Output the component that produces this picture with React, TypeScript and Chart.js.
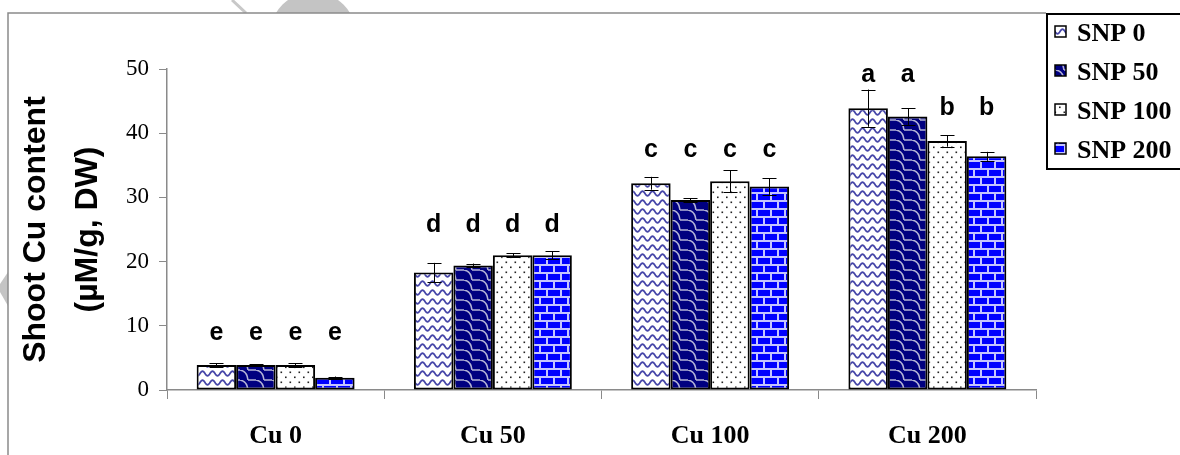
import React, { useEffect, useRef } from 'react';
import { Chart, registerables } from 'chart.js';

Chart.register(...registerables);

const categories = ['Cu 0', 'Cu 50', 'Cu 100', 'Cu 200'];
const seriesNames = ['SNP 0', 'SNP 50', 'SNP 100', 'SNP 200'];
const yTicks = [0, 10, 20, 30, 40, 50];

const snp0 = [3.9, 18.3, 32.2, 43.9];
const snp50 = [3.9, 19.4, 29.6, 42.6];
const snp100 = [3.9, 21.0, 32.5, 38.8];
const snp200 = [1.9, 21.0, 31.7, 36.4];

const snp0Err = [0.3, 1.5, 1.0, 2.9];
const snp50Err = [0.1, 0.3, 0.3, 1.3];
const snp100Err = [0.3, 0.3, 1.7, 0.9];
const snp200Err = [0.2, 0.6, 1.3, 0.7];

const snp0Letters = ['e', 'd', 'c', 'a'];
const snp50Letters = ['e', 'd', 'c', 'a'];
const snp100Letters = ['e', 'd', 'c', 'b'];
const snp200Letters = ['e', 'd', 'c', 'b'];

// height (in y-axis units) at which each significance letter sits
const snp0LetterLevel = [8.9, 25.7, 37.4, 49.1];
const snp50LetterLevel = [8.9, 25.7, 37.4, 49.1];
const snp100LetterLevel = [8.9, 25.7, 37.4, 43.9];
const snp200LetterLevel = [8.9, 25.7, 37.4, 43.9];

const seriesValues = [snp0, snp50, snp100, snp200];
const seriesErrors = [snp0Err, snp50Err, snp100Err, snp200Err];
const seriesLetters = [snp0Letters, snp50Letters, snp100Letters, snp200Letters];
const seriesLetterLevels = [snp0LetterLevel, snp50LetterLevel, snp100LetterLevel, snp200LetterLevel];

function makePattern(w: number, h: number, draw: (g: CanvasRenderingContext2D) => void) {
  const c = document.createElement('canvas');
  c.width = w;
  c.height = h;
  const g = c.getContext('2d') as CanvasRenderingContext2D;
  draw(g);
  return g.createPattern(c, 'repeat') as CanvasPattern;
}

function buildPatterns() {
  const wave = makePattern(10, 9, (g) => {
    g.fillStyle = '#ffffff';
    g.fillRect(0, 0, 10, 9);
    g.strokeStyle = '#4646a8';
    g.lineWidth = 1.8;
    g.beginPath();
    for (let x = -1; x <= 11; x += 0.5) {
      const y = 4.5 - 2.3 * Math.sin((2 * Math.PI * x) / 10);
      if (x === -1) g.moveTo(x, y);
      else g.lineTo(x, y);
    }
    g.stroke();
  });
  const shingle = makePattern(16, 10, (g) => {
    g.fillStyle = '#000080';
    g.fillRect(0, 0, 16, 10);
    g.strokeStyle = '#b4b4d6';
    g.lineWidth = 1.5;
    g.beginPath();
    g.moveTo(0, 0);
    g.quadraticCurveTo(7, 1, 8, 10);
    g.lineTo(16, 10);
    g.stroke();
    g.beginPath();
    g.moveTo(8, 0);
    g.lineTo(16, 0);
    g.stroke();
  });
  const dots = makePattern(9, 10, (g) => {
    g.fillStyle = '#ffffff';
    g.fillRect(0, 0, 9, 10);
    g.fillStyle = '#222222';
    g.fillRect(1.5, 1.5, 1.6, 1.6);
    g.fillRect(6, 6.5, 1.6, 1.6);
  });
  const brick = makePattern(14, 16, (g) => {
    g.fillStyle = '#0000ff';
    g.fillRect(0, 0, 14, 16);
    g.fillStyle = '#c4c4ff';
    g.fillRect(0, 0, 14, 2);
    g.fillRect(0, 8, 14, 2);
    g.fillRect(0, 0, 2, 8);
    g.fillRect(7, 8, 2, 8);
  });
  return [wave, shingle, dots, brick];
}

const backgroundPlugin = {
  id: 'pageFrame',
  beforeDraw(chart: any) {
    const ctx = chart.ctx as CanvasRenderingContext2D;
    ctx.save();
    ctx.fillStyle = '#ffffff';
    ctx.fillRect(0, 0, chart.width, chart.height);
    // faint watermark pieces outside the frame
    ctx.fillStyle = '#c4c4c4';
    ctx.save();
    ctx.beginPath();
    ctx.rect(0, 0, chart.width, 13);
    ctx.clip();
    ctx.beginPath();
    ctx.arc(313, 35, 43, 0, Math.PI * 2);
    ctx.fill();
    ctx.strokeStyle = '#c8c8c8';
    ctx.lineWidth = 3;
    ctx.beginPath();
    ctx.moveTo(232, 0);
    ctx.lineTo(246, 13);
    ctx.stroke();
    ctx.restore();
    ctx.beginPath();
    ctx.moveTo(8, 272);
    ctx.lineTo(8, 306);
    ctx.lineTo(0, 292);
    ctx.lineTo(0, 284);
    ctx.closePath();
    ctx.fill();
    // outer chart frame
    ctx.strokeStyle = '#8a8a8a';
    ctx.lineWidth = 1.5;
    ctx.beginPath();
    ctx.moveTo(8, chart.height);
    ctx.lineTo(8, 13);
    ctx.lineTo(1046, 13);
    ctx.stroke();
    ctx.restore();
  },
};

const annotationPlugin = {
  id: 'errorsAndLetters',
  afterDatasetsDraw(chart: any) {
    const ctx = chart.ctx as CanvasRenderingContext2D;
    const yScale = chart.scales.y;
    ctx.save();
    chart.data.datasets.forEach((ds: any, i: number) => {
      const meta = chart.getDatasetMeta(i);
      meta.data.forEach((bar: any, j: number) => {
        const v = ds.data[j];
        const e = seriesErrors[i][j];
        const x = Math.round(bar.x) + 0.5;
        const yt = yScale.getPixelForValue(v + e);
        const yb = yScale.getPixelForValue(v - e);
        ctx.strokeStyle = '#000000';
        ctx.lineWidth = 1;
        ctx.beginPath();
        ctx.moveTo(x, yt);
        ctx.lineTo(x, yb);
        ctx.moveTo(x - 7, Math.round(yt) + 0.5);
        ctx.lineTo(x + 7, Math.round(yt) + 0.5);
        ctx.moveTo(x - 7, Math.round(yb) + 0.5);
        ctx.lineTo(x + 7, Math.round(yb) + 0.5);
        ctx.stroke();

        ctx.fillStyle = '#000000';
        ctx.font = 'bold 25px "Liberation Sans", Arial, sans-serif';
        ctx.textAlign = 'center';
        ctx.textBaseline = 'middle';
        ctx.fillText(seriesLetters[i][j], bar.x, yScale.getPixelForValue(seriesLetterLevels[i][j]));
      });
    });
    ctx.restore();
  },
};

const legendPlugin = {
  id: 'boxLegend',
  afterDraw(chart: any) {
    const ctx = chart.ctx as CanvasRenderingContext2D;
    ctx.save();
    ctx.fillStyle = '#ffffff';
    ctx.fillRect(1046, 13, 140, 156);
    ctx.strokeStyle = '#000000';
    ctx.lineWidth = 2;
    ctx.strokeRect(1047, 14, 140, 155);
    const rowY = [33, 72, 111, 150];
    chart.data.datasets.forEach((ds: any, i: number) => {
      const cy = rowY[i];
      ctx.fillStyle = ds.backgroundColor;
      ctx.fillRect(1055, cy - 7, 11, 11);
      ctx.strokeStyle = '#000000';
      ctx.lineWidth = 1.5;
      ctx.strokeRect(1055, cy - 7, 11, 11);
      ctx.fillStyle = '#000000';
      ctx.font = 'bold 26px "Liberation Serif", "Times New Roman", serif';
      ctx.textAlign = 'left';
      ctx.textBaseline = 'middle';
      ctx.fillText(ds.label, 1077, cy + 1);
    });
    ctx.restore();
  },
};

export default function App() {
  const canvasRef = useRef<HTMLCanvasElement | null>(null);

  useEffect(() => {
    document.body.style.margin = '0';
    const canvas = canvasRef.current;
    if (!canvas) return;
    const patterns = buildPatterns();
    const chart = new Chart(canvas, {
      type: 'bar',
      data: {
        labels: categories,
        datasets: seriesNames.map((name, i) => ({
          label: name,
          data: seriesValues[i],
          backgroundColor: patterns[i] as any,
          borderColor: '#000000',
          borderWidth: 2,
          borderSkipped: false,
          categoryPercentage: 0.727,
          barPercentage: 1.0,
        })),
      },
      options: {
        responsive: false,
        animation: false,
        devicePixelRatio: 1,
        layout: { padding: { top: 69, right: 144, left: 0, bottom: 0 } },
        plugins: {
          legend: { display: false },
          tooltip: { enabled: false },
        },
        scales: {
          x: {
            grid: {
              display: true,
              drawOnChartArea: false,
              drawTicks: true,
              tickLength: 9,
              color: '#8a8a8a',
              offset: true,
            },
            border: { display: true, color: '#8a8a8a', width: 1.5 },
            ticks: {
              color: '#000000',
              padding: 22,
              maxRotation: 0,
              font: { family: '"Liberation Serif", "Times New Roman", serif', size: 26, weight: 'bold' },
            },
            afterFit: (s: any) => {
              s.height = 65;
            },
          },
          y: {
            min: 0,
            max: 50,
            afterBuildTicks: (s: any) => {
              s.ticks = yTicks.map((v) => ({ value: v }));
            },
            grid: {
              display: true,
              drawOnChartArea: false,
              drawTicks: true,
              tickLength: 8,
              color: '#8a8a8a',
            },
            border: { display: true, color: '#8a8a8a', width: 1.5 },
            ticks: {
              color: '#000000',
              padding: 10,
              font: { family: '"Liberation Serif", "Times New Roman", serif', size: 23 },
            },
            title: {
              display: true,
              text: ['Shoot Cu content', '(µM/g, DW)'],
              color: '#000000',
              font: { family: '"Liberation Sans", Arial, sans-serif', size: 32, weight: 'bold', lineHeight: 1.625 },
              padding: { top: 10, bottom: 0 },
            },
            afterFit: (s: any) => {
              s.width = 167;
            },
          },
        },
      },
      plugins: [backgroundPlugin, annotationPlugin, legendPlugin],
    });
    return () => chart.destroy();
  }, []);

  return (
    <div style={{ width: 1180, height: 455, position: 'relative' }}>
      <canvas ref={canvasRef} width={1180} height={455} style={{ display: 'block' }} />
    </div>
  );
}
